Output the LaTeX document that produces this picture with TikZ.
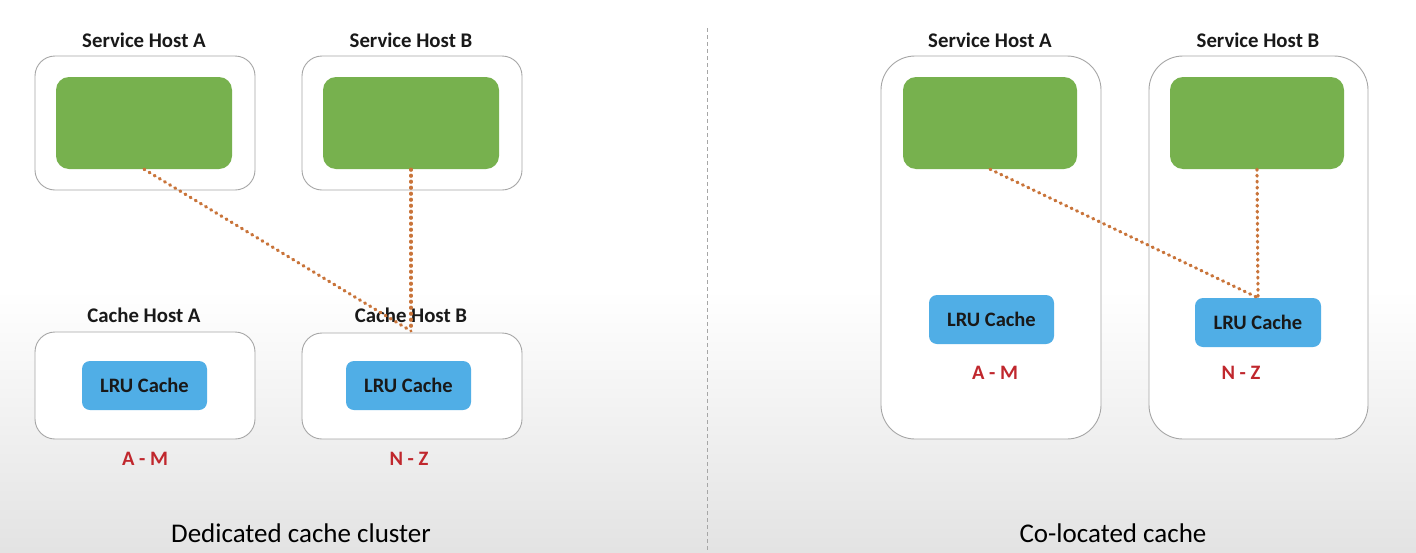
\documentclass[tikz,border=0pt]{standalone}
\usepackage{fontspec}
\setmainfont{Carlito}
\begin{document}
\begin{tikzpicture}[x=1pt,y=-1pt,
  host/.style={draw=black!35, line width=0.9pt, fill=white, rounded corners=20pt, inner sep=0pt},
  tallhost/.style={draw=black!35, line width=0.9pt, fill=white, rounded corners=34pt, inner sep=0pt},
  svc/.style={fill=svcgreen, rounded corners=13pt, inner sep=0pt, minimum width=176pt, minimum height=92pt},
  lru/.style={fill=lrublue, rounded corners=8pt, inner sep=0pt, minimum width=125pt, minimum height=49pt, font=\fontsize{20.5}{24}\selectfont\bfseries, text=black!90},
  lbl/.style={font=\fontsize{20.8}{24}\selectfont\bfseries, text=black!90},
  rng/.style={font=\fontsize{20.5}{24}\selectfont\bfseries, text=rngred},
  ttl/.style={font=\fontsize{27}{32}\selectfont, text=black},
  link/.style={draw=linkorange, line width=3.2pt, line cap=round, dash pattern=on 1pt off 5pt}
]
\definecolor{svcgreen}{HTML}{77B14E}
\definecolor{lrublue}{HTML}{50AEE6}
\definecolor{rngred}{HTML}{C0272D}
\definecolor{linkorange}{HTML}{C9743A}
% background
\useasboundingbox (0,0) rectangle (1416,552);
\fill[white] (0,0) rectangle (1416,552);
\shade[top color=white, bottom color=black!11] (0,290) rectangle (1416,552);
\draw[black!35, line width=0.7pt, dash pattern=on 4pt off 3pt] (707,28) -- (707,552);

% ---------- left: dedicated cache cluster ----------
\node[host, minimum width=220pt, minimum height=134pt] (lsa) at (145,123) {};
\node[host, minimum width=220pt, minimum height=134pt] (lsb) at (412,123) {};
\node[lbl] (lsal) at (144,40) {Service Host A};
\node[lbl] (lsbl) at (411,40) {Service Host B};
\node[svc] (lga) at (144,123) {};
\node[svc] (lgb) at (411,123) {};

\node[host, minimum width=220pt, minimum height=107pt] (lca) at (145,385.5) {};
\node[host, minimum width=220pt, minimum height=106pt] (lcb) at (412,386) {};
\node[lbl] (lcal) at (144,315) {Cache Host A};
\node[lbl] (lcbl) at (411,315) {Cache Host B};
\node[lru] (lla) at (144.5,385.5) {LRU Cache};
\node[lru] (llb) at (408.5,385.5) {LRU Cache};
\node[rng] (lra) at (145,459) {A - M};
\node[rng] (lrb) at (409,459) {N - Z};

\coordinate (ljoin) at (411,331);
\draw[link] (lga.south) -- (ljoin);
\draw[link] (lgb.south) -- (ljoin);

\node[ttl] (lt) at (301,533) {Dedicated cache cluster};

% ---------- right: co-located cache ----------
\node[tallhost, minimum width=220pt, minimum height=383pt] (rsa) at (991,247.5) {};
\node[tallhost, minimum width=219pt, minimum height=383pt] (rsb) at (1258.5,247.5) {};
\node[lbl] (rsal) at (990,40) {Service Host A};
\node[lbl] (rsbl) at (1258,40) {Service Host B};
\node[svc, minimum width=174pt] (rga) at (990,123) {};
\node[svc, minimum width=174pt] (rgb) at (1257,123) {};
\node[lru] (rla) at (991.5,319.5) {LRU Cache};
\node[lru, minimum width=126pt] (rlb) at (1258,322.5) {LRU Cache};
\node[rng] (rra) at (995,373) {A - M};
\node[rng] (rrb) at (1241,373) {N - Z};

\draw[link] (rga.south) -- (rlb.north);
\draw[link] (rgb.south) -- (rlb.north);

\node[ttl] (rt) at (1113,533) {Co-located cache};
\end{tikzpicture}
\end{document}
